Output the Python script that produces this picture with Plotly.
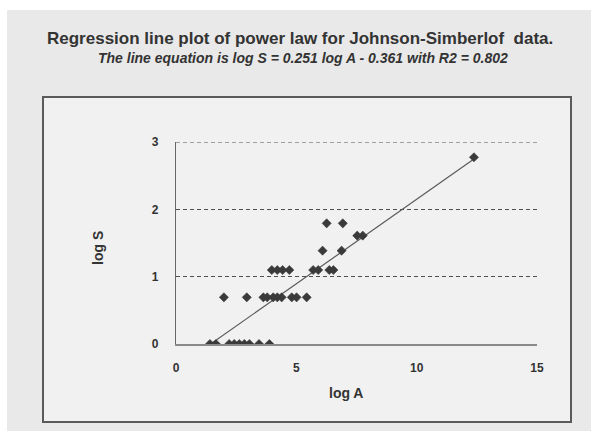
import math
import plotly.graph_objects as go

# ---- data ----
log_a_row0 = [1.41, 1.66, 2.21, 2.42, 2.63, 2.84, 3.05, 3.45, 3.88]
log_a_row2 = [1.99, 2.94, 3.63, 3.79, 4.04, 4.21, 4.39, 4.81, 5.01, 5.43]
log_a_row3 = [3.98, 4.21, 4.43, 4.71, 5.70, 5.91, 6.37, 6.54]
log_a_row4 = [6.09, 6.88]
log_a_row5 = [7.53, 7.76]
log_a_row6 = [6.26, 6.93]
log_a_row16 = [12.38]
species_counts = [1, 2, 3, 4, 5, 6, 16]
slope = 0.251
intercept = -0.361
x_ticks = [0, 5, 10, 15]
y_ticks = [0, 1, 2, 3]

rows = [log_a_row0, log_a_row2, log_a_row3, log_a_row4, log_a_row5, log_a_row6, log_a_row16]
xs, ys = [], []
for row, s in zip(rows, species_counts):
    for a in row:
        xs.append(a)
        ys.append(math.log(s))

x_line = [min(xs), max(xs)]
y_line = [slope * v + intercept for v in x_line]

# plot area geometry (pixels)
W, H = 591, 431
L, R, T, B = 176, 54, 142, 87
pw, ph = W - L - R, H - T - B

GRID_COLOR = "#505050"
GRID_DASH = "4px,3px"


def px(x):
    return (x - L) / pw


def py(y):
    return (H - B - y) / ph


fig = go.Figure()
fig.add_trace(go.Scatter(x=x_line, y=y_line, mode="lines",
                         line=dict(color="#5a5a5a", width=1.2),
                         hoverinfo="skip", showlegend=False))
fig.add_trace(go.Scatter(x=xs, y=ys, mode="markers",
                         marker=dict(symbol="diamond", size=7, color="#3a3a3a",
                                     line=dict(width=0.6, color="#3a3a3a")),
                         showlegend=False))

font_main = "Liberation Sans, Arial, sans-serif"

fig.update_layout(
    width=W, height=H,
    margin=dict(l=L, r=R, t=T, b=B),
    paper_bgcolor="#e9e9e9",
    plot_bgcolor="#f7f7f7",
    font=dict(family=font_main, color="#333333"),
    xaxis=dict(range=[0, 15], tickvals=x_ticks, showgrid=False, zeroline=False,
               showline=True, linecolor="#8a8a8a", linewidth=2,
               ticks="", ticklabelstandoff=12,
               tickfont=dict(size=12, family=font_main, weight="bold", color="#333333")),
    yaxis=dict(range=[0, 3], tickvals=y_ticks, showgrid=True, gridcolor=GRID_COLOR,
               griddash=GRID_DASH, gridwidth=1.2, zeroline=False,
               showline=True, linecolor="#666666", linewidth=1.2,
               ticks="", ticklabelstandoff=14,
               tickfont=dict(size=12, family=font_main, weight="bold", color="#333333")),
    shapes=[
        # white photo border strips
        dict(type="rect", xref="paper", yref="paper", x0=px(0), x1=px(W), y0=py(0), y1=py(10),
             fillcolor="#ffffff", line=dict(width=0), layer="below"),
        dict(type="rect", xref="paper", yref="paper", x0=px(0), x1=px(7), y0=py(0), y1=py(H),
             fillcolor="#ffffff", line=dict(width=0), layer="below"),
        # chart frame
        dict(type="rect", xref="paper", yref="paper", x0=px(43), x1=px(571), y0=py(422), y1=py(97),
             fillcolor="#f1f1f1", line=dict(color="#5a5a5a", width=2), layer="below"),
        # top dashed grid line (plotly omits grid lines at the range edge)
        dict(type="line", xref="paper", yref="y", x0=0, x1=1, y0=y_ticks[-1], y1=y_ticks[-1],
             line=dict(color=GRID_COLOR, width=1.2, dash=GRID_DASH), layer="above"),
    ],
    annotations=[
        dict(text="<b>Regression line plot of power law for Johnson-Simberlof  data.</b>",
             xref="paper", yref="paper", x=px(300), y=py(38), showarrow=False,
             font=dict(size=17, family=font_main, color="#333333"), xanchor="center", yanchor="middle"),
        dict(text="<b><i>The line equation is log S = 0.251 log A - 0.361 with R2 = 0.802</i></b>",
             xref="paper", yref="paper", x=px(303), y=py(58), showarrow=False,
             font=dict(size=14, family=font_main, color="#333333"), xanchor="center", yanchor="middle"),
        dict(text="<b>log A</b>", xref="paper", yref="paper", x=px(346), y=py(393), showarrow=False,
             font=dict(size=14, family=font_main, color="#333333"), xanchor="center", yanchor="middle"),
        dict(text="<b>log S</b>", xref="paper", yref="paper", x=px(98), y=py(248), showarrow=False,
             textangle=-90,
             font=dict(size=14, family=font_main, color="#333333"), xanchor="center", yanchor="middle"),
    ],
)

fig.write_html("out.html")
